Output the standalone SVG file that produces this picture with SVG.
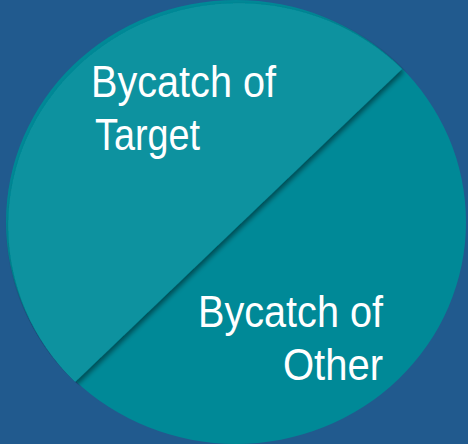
<svg xmlns="http://www.w3.org/2000/svg" width="468" height="444" viewBox="0 0 468 444">
  <defs>
    <style>
      .label { font-family: "Liberation Sans", Arial, sans-serif; font-size: 44px; fill: #ffffff; }
    </style>
    <filter id="halfShadow" x="-10%" y="-10%" width="120%" height="120%">
      <feGaussianBlur in="SourceAlpha" stdDeviation="2.5"/>
      <feOffset dx="2" dy="3" result="blur"/>
      <feComponentTransfer><feFuncA type="linear" slope="0.45"/></feComponentTransfer>
      <feMerge><feMergeNode/><feMergeNode in="SourceGraphic"/></feMerge>
    </filter>
    <clipPath id="pieClip">
      <ellipse cx="236" cy="222" rx="231" ry="223"/>
    </clipPath>
  </defs>

  <rect width="468" height="444" fill="#215a8e"/>

  <!-- lower-right half -->
  <g id="other-slice">
    <ellipse cx="236" cy="222" rx="230" ry="222" fill="#008997"/>
  </g>

  <!-- upper-left half, raised with a soft shadow -->
  <g id="target-slice" clip-path="url(#pieClip)">
    <path d="M402,69 A230,222 0 0 0 75,382 Z" fill="#0b929f" filter="url(#halfShadow)"/>
  </g>

  <g id="labels">
    <text class="label" x="91" y="97" textLength="185" lengthAdjust="spacingAndGlyphs">Bycatch of</text>
    <text class="label" x="95" y="150" textLength="105" lengthAdjust="spacingAndGlyphs">Target</text>
    <text class="label" x="198" y="327" textLength="185" lengthAdjust="spacingAndGlyphs">Bycatch of</text>
    <text class="label" x="283" y="380" textLength="100" lengthAdjust="spacingAndGlyphs">Other</text>
  </g>
</svg>
